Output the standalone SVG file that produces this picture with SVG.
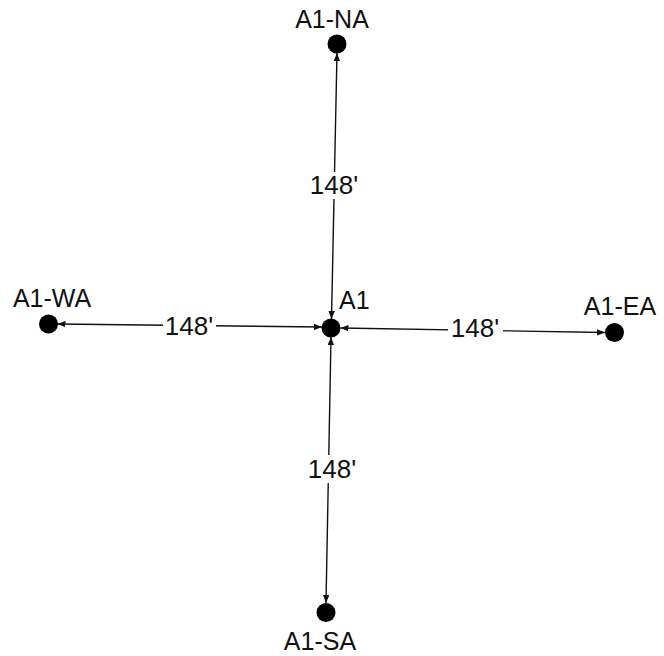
<svg xmlns="http://www.w3.org/2000/svg" width="664" height="656" viewBox="0 0 664 656">
<style>
.dot{fill:#000}
.lbl{font-family:"Liberation Sans",Arial,sans-serif;font-size:25px;fill:#111}
.dim{font-family:"Liberation Sans",Arial,sans-serif;font-size:26px;fill:#111;text-anchor:middle}
.ln{stroke:#111;stroke-width:1.4;fill:none;marker-start:url(#ah);marker-end:url(#ah)}
.bg{fill:#fff}
</style>
<defs>
<marker id="ah" viewBox="0 0 10 8" refX="10" refY="4" markerWidth="8" markerHeight="6.4" markerUnits="userSpaceOnUse" orient="auto-start-reverse">
<path d="M0,0 L10,4 L0,8 Z" fill="#111"/>
</marker>
</defs>
<rect width="664" height="656" fill="#fff"/>
<g id="connectors">
<line class="ln" x1="337" y1="53" x2="331.5" y2="319"/>
<line class="ln" x1="57.5" y1="324" x2="322" y2="327"/>
<line class="ln" x1="340.5" y1="328" x2="605" y2="332.5"/>
<line class="ln" x1="331" y1="337" x2="326" y2="603"/>
<rect class="bg" x="308" y="172" width="52" height="27"/>
<text class="dim" x="334" y="194">148'</text>
<rect class="bg" x="163" y="312" width="53" height="27"/>
<text class="dim" x="189" y="335">148'</text>
<rect class="bg" x="448" y="314" width="55" height="27"/>
<text class="dim" x="475" y="337">148'</text>
<rect class="bg" x="305" y="455" width="54" height="28"/>
<text class="dim" x="332" y="478">148'</text>
</g>
<g id="A1">
<circle class="dot" cx="331" cy="328" r="9.5"/>
<text class="lbl" x="339" y="309">A1</text>
</g>
<g id="A1-NA">
<circle class="dot" cx="337" cy="44" r="9.5"/>
<text class="lbl" x="332" y="28" text-anchor="middle">A1-NA</text>
</g>
<g id="A1-WA">
<circle class="dot" cx="48.5" cy="324" r="9.5"/>
<text class="lbl" x="52" y="307" text-anchor="middle">A1-WA</text>
</g>
<g id="A1-EA">
<circle class="dot" cx="614.5" cy="332.5" r="9.5"/>
<text class="lbl" x="620" y="315" text-anchor="middle">A1-EA</text>
</g>
<g id="A1-SA">
<circle class="dot" cx="326" cy="612.5" r="9.5"/>
<text class="lbl" x="320" y="650" text-anchor="middle">A1-SA</text>
</g>
</svg>
